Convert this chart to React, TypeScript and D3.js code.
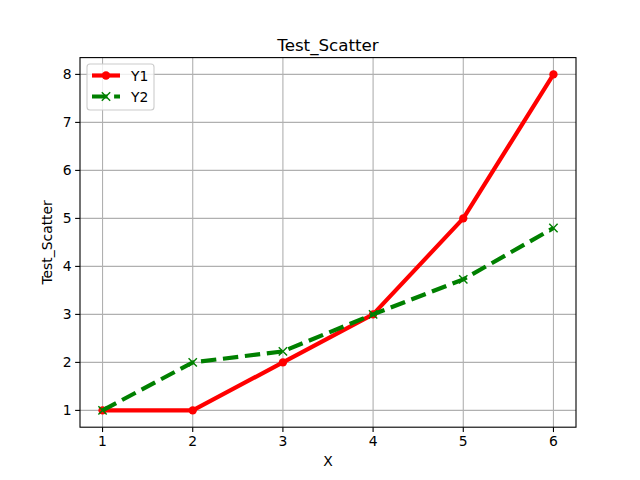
import React from "react";
import * as d3 from "d3";

const xs = [1, 2, 3, 4, 5, 6];
const y1 = [1, 1, 2, 3, 5, 8];
const y2 = [1, 2, 2.23, 3, 3.73, 4.8];
const xTicks = [1, 2, 3, 4, 5, 6];
const yTicks = [1, 2, 3, 4, 5, 6, 7, 8];
const title = "Test_Scatter";
const xLabel = "X";
const yLabel = "Test_Scatter";

export default function App() {
  const W = 640, H = 480;
  const L = 80, R = 576, T = 57.6, B = 427.2;
  const x = d3.scaleLinear().domain([0.75, 6.25]).range([L, R]);
  const y = d3.scaleLinear().domain([0.65, 8.35]).range([B, T]);
  const font = "DejaVu Sans, sans-serif";
  const line = d3.line<number>().x((_, i) => x(xs[i])).y((d) => y(d));
  const lw = 4.17;
  return (
    <svg width={W} height={H} style={{ position: "fixed", left: 0, top: 0 }} fontFamily={font}>
      <rect width={W} height={H} fill="white" />
      {xTicks.map((t) => (
        <line key={"gx" + t} x1={x(t)} x2={x(t)} y1={T} y2={B} stroke="#b0b0b0" strokeWidth={1.1} />
      ))}
      {yTicks.map((t) => (
        <line key={"gy" + t} x1={L} x2={R} y1={y(t)} y2={y(t)} stroke="#b0b0b0" strokeWidth={1.1} />
      ))}
      <path d={line(y1) || ""} fill="none" stroke="red" strokeWidth={lw} strokeLinejoin="round" />
      {y1.map((v, i) => (
        <circle key={"c" + i} cx={x(xs[i])} cy={y(v)} r={4.17} fill="red" />
      ))}
      <path d={line(y2) || ""} fill="none" stroke="green" strokeWidth={lw} strokeDasharray="15.4,6.7" />
      {y2.map((v, i) => {
        const cx = x(xs[i]), cy = y(v), s = 4.17;
        return (
          <g key={"x" + i} stroke="green" strokeWidth={1.4}>
            <line x1={cx - s} y1={cy - s} x2={cx + s} y2={cy + s} />
            <line x1={cx - s} y1={cy + s} x2={cx + s} y2={cy - s} />
          </g>
        );
      })}
      <rect x={L} y={T} width={R - L} height={B - T} fill="none" stroke="black" strokeWidth={1.1} />
      {xTicks.map((t) => (
        <g key={"tx" + t}>
          <line x1={x(t)} x2={x(t)} y1={B} y2={B + 4.86} stroke="black" strokeWidth={1.1} />
          <text x={x(t)} y={B + 19} fontSize={13.9} textAnchor="middle">{t}</text>
        </g>
      ))}
      {yTicks.map((t) => (
        <g key={"ty" + t}>
          <line x1={L - 4.86} x2={L} y1={y(t)} y2={y(t)} stroke="black" strokeWidth={1.1} />
          <text x={L - 8.5} y={y(t)} dy="0.36em" fontSize={13.9} textAnchor="end">{t}</text>
        </g>
      ))}
      <text x={(L + R) / 2} y={466} fontSize={13.9} textAnchor="middle">{xLabel}</text>
      <text transform={`translate(52,${(T + B) / 2}) rotate(-90)`} fontSize={13.9} textAnchor="middle">{yLabel}</text>
      <text x={(L + R) / 2} y={T - 7} fontSize={16.7} textAnchor="middle">{title}</text>
      <g>
        <rect x={87} y={64} width={67} height={46} rx={3} fill="white" fillOpacity={0.8} stroke="#cccccc" strokeWidth={1.1} />
        <line x1={92} x2={120} y1={75.5} y2={75.5} stroke="red" strokeWidth={lw} />
        <circle cx={106} cy={75.5} r={4.17} fill="red" />
        <text x={131} y={75.5} dy="0.36em" fontSize={13.9}>Y1</text>
        <line x1={92} x2={120} y1={96.5} y2={96.5} stroke="green" strokeWidth={lw} strokeDasharray="15.4,6.7" />
        <g stroke="green" strokeWidth={1.4}>
          <line x1={106 - 4.17} y1={96.5 - 4.17} x2={106 + 4.17} y2={96.5 + 4.17} />
          <line x1={106 - 4.17} y1={96.5 + 4.17} x2={106 + 4.17} y2={96.5 - 4.17} />
        </g>
        <text x={131} y={96.5} dy="0.36em" fontSize={13.9}>Y2</text>
      </g>
    </svg>
  );
}
